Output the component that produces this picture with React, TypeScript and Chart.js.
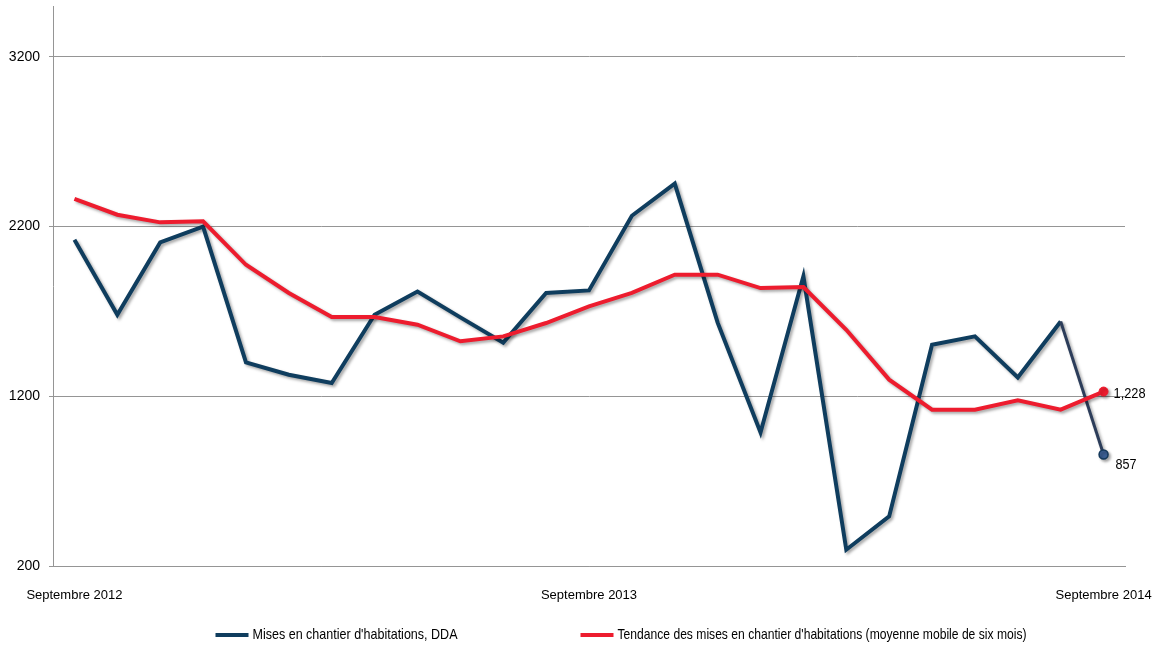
import { useEffect, useRef } from 'react';
import { Chart, registerables } from 'chart.js';

Chart.register(...registerables);

const months = [
  'Septembre 2012', 'Octobre 2012', 'Novembre 2012', 'Décembre 2012',
  'Janvier 2013', 'Février 2013', 'Mars 2013', 'Avril 2013', 'Mai 2013',
  'Juin 2013', 'Juillet 2013', 'Août 2013', 'Septembre 2013', 'Octobre 2013',
  'Novembre 2013', 'Décembre 2013', 'Janvier 2014', 'Février 2014', 'Mars 2014',
  'Avril 2014', 'Mai 2014', 'Juin 2014', 'Juillet 2014', 'Août 2014', 'Septembre 2014',
];

const shownMonths = ['Septembre 2012', 'Septembre 2013', 'Septembre 2014'];

const miseEnChantier = [
  2123, 1681, 2107, 2200, 1400, 1327, 1278, 1681, 1818, 1665, 1516, 1809, 1824,
  2264, 2453, 1634, 987, 1907, 296, 492, 1504, 1553, 1311, 1641, 857,
];

const tendance = [
  2364, 2270, 2225, 2231, 1975, 1809, 1667, 1667, 1622, 1524, 1553, 1632, 1730,
  1809, 1917, 1917, 1838, 1844, 1592, 1298, 1121, 1121, 1176, 1121, 1228,
];

const yTicks = [200, 1200, 2200, 3200];
const yMin = 200;
const yMax = 3500;

const seriesNames = [
  "Mises en chantier d'habitations, DDA",
  "Tendance des mises en chantier d'habitations (moyenne mobile de six mois)",
];

const BLUE = '#0f3d5e';
const RED = '#ed1c2e';
const GRID = '#959595';
const REGULAR = '"Liberation Sans", Arial, sans-serif';

const shadowPlugin = {
  id: 'lineShadow',
  beforeDatasetDraw(chart: any) {
    const ctx = chart.ctx;
    ctx.save();
    ctx.shadowColor = 'rgba(0,0,0,0.35)';
    ctx.shadowBlur = 3;
    ctx.shadowOffsetX = 2;
    ctx.shadowOffsetY = 2;
  },
  afterDatasetDraw(chart: any) {
    chart.ctx.restore();
  },
};

const lastLabelPlugin = {
  id: 'lastLabels',
  afterDatasetsDraw(chart: any) {
    const ctx = chart.ctx;
    ctx.save();
    ctx.font = '14px ' + REGULAR;
    ctx.fillStyle = '#000';
    ctx.textAlign = 'left';
    ctx.textBaseline = 'middle';
    chart.data.datasets.forEach((ds: any, i: number) => {
      const meta = chart.getDatasetMeta(i);
      const last = meta.data.length - 1;
      const pt = meta.data[last];
      const v = ds.data[last] as number;
      const txt = v.toLocaleString('en-US');
      if (i === 0) ctx.fillText(txt, pt.x + 12, pt.y + 11, 21);
      else ctx.fillText(txt, pt.x + 10, pt.y + 3, 32);
    });
    ctx.restore();
  },
};

const legendPlugin = {
  id: 'bottomLegend',
  afterDraw(chart: any) {
    const ctx = chart.ctx;
    ctx.save();
    ctx.font = '15px ' + REGULAR;
    ctx.textBaseline = 'middle';
    ctx.textAlign = 'left';
    const y = 635;
    const boxW = 33;
    const gapText = 4;
    const gapItems = 123;
    const textW = [205, 409];
    const items = chart.data.datasets.map((ds: any, i: number) => ({
      text: ds.label as string,
      color: ds.borderColor as string,
      w: Math.min(textW[i], ctx.measureText(ds.label).width),
    }));
    let total = 0;
    items.forEach((it: any, i: number) => {
      total += boxW + gapText + it.w + (i > 0 ? gapItems : 0);
    });
    let x = 621 - total / 2;
    items.forEach((it: any) => {
      ctx.fillStyle = it.color;
      ctx.fillRect(x, y - 2, boxW, 4);
      ctx.fillStyle = '#000';
      ctx.fillText(it.text, x + boxW + gapText, y, it.w);
      x += boxW + gapText + it.w + gapItems;
    });
    ctx.restore();
  },
};

export default function App() {
  const ref = useRef<HTMLCanvasElement | null>(null);

  useEffect(() => {
    if (!ref.current) return;
    const last = months.length - 1;
    const chart = new Chart(ref.current, {
      type: 'line',
      data: {
        labels: months,
        datasets: [
          {
            label: seriesNames[0],
            data: miseEnChantier,
            borderColor: BLUE,
            backgroundColor: BLUE,
            borderWidth: 4,
            tension: 0,
            order: 1,
            pointRadius: miseEnChantier.map((_, i) => (i === last ? 4.5 : 0)),
            pointBackgroundColor: '#3b5f94',
            pointBorderColor: '#13385a',
            pointBorderWidth: 1.5,
            pointHoverRadius: 0,
            segment: {
              borderColor: (c: any) => (c.p1DataIndex === last ? '#2c3d5a' : undefined),
              borderWidth: (c: any) => (c.p1DataIndex === last ? 3 : undefined),
            },
          },
          {
            label: seriesNames[1],
            data: tendance,
            borderColor: RED,
            backgroundColor: RED,
            borderWidth: 4,
            tension: 0,
            order: 0,
            pointRadius: tendance.map((_, i) => (i === last ? 4.5 : 0)),
            pointBackgroundColor: RED,
            pointBorderColor: RED,
            pointBorderWidth: 1,
            pointHoverRadius: 0,
          },
        ],
      },
      options: {
        animation: false,
        responsive: false,
        events: [],
        layout: { padding: { left: 0, top: 6, right: 38, bottom: 40 } },
        plugins: {
          legend: { display: false },
          tooltip: { enabled: false },
          title: { display: false },
        },
        scales: {
          x: {
            offset: true,
            grid: { display: false, drawTicks: false },
            border: { display: true, color: GRID, width: 1 },
            ticks: {
              autoSkip: false,
              maxRotation: 0,
              minRotation: 0,
              padding: 22,
              color: '#000',
              font: { family: REGULAR, size: 13 },
              callback: (_v: any, i: number) => (shownMonths.includes(months[i]) ? months[i] : ''),
            },
            afterFit: (s: any) => {
              s.height = 40;
              s.paddingLeft = 0;
              s.paddingRight = 0;
            },
          },
          y: {
            min: yMin,
            max: yMax,
            afterBuildTicks: (s: any) => {
              s.ticks = yTicks.map((v) => ({ value: v }));
            },
            grid: { color: GRID, lineWidth: 1, tickLength: 4, drawTicks: true },
            border: { display: true, color: GRID, width: 1 },
            ticks: {
              padding: 9,
              color: '#000',
              font: { family: REGULAR, size: 14 },
              callback: (v: any) => String(v),
            },
            afterFit: (s: any) => {
              s.width = 53;
              s.paddingTop = 0;
              s.paddingBottom = 0;
            },
          },
        },
      },
      plugins: [shadowPlugin, lastLabelPlugin, legendPlugin],
    });
    return () => chart.destroy();
  }, []);

  return (
    <div style={{ position: 'absolute', left: 0, top: 0, width: 1163, height: 646, background: '#fff' }}>
      <canvas ref={ref} width={1163} height={646} style={{ display: 'block', width: 1163, height: 646 }} />
    </div>
  );
}
